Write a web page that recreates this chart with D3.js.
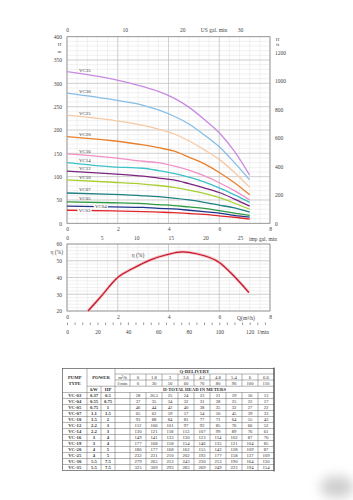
<!DOCTYPE html>
<html>
<head>
<meta charset="utf-8">
<script src="https://cdn.jsdelivr.net/npm/d3@7"></script>
<style>
  body { margin: 0; background: #fff; }
  svg { display: block; font-family: "Liberation Serif", "DejaVu Serif", serif; }
</style>
</head>
<body>
<script>
// ---- table data ----
const flowM3h = [0, 1.8, 3, 3.6, 4.2, 4.8, 5.4, 6, 6.6];
const flowLmin = [0, 30, 50, 60, 70, 80, 90, 100, 110];
const pumpTypes = ["VC-03", "VC-04", "VC-05", "VC-07", "VC-10", "VC-12", "VC-14", "VC-16", "VC-19", "VC-20", "VC-25", "VC-30", "VC-35"];
const powerKw = ["0.37", "0.55", "0.75", "1.1", "1.5", "2.2", "2.2", "3", "3", "4", "4", "5.5", "5.5"];
const powerHp = ["0.5", "0.75", "1", "1.5", "2", "3", "3", "4", "4", "5", "5", "7.5", "7.5"];
const headTable = [
  [28, 26.5, 25, 24, 23, 21, 19, 16, 13],
  [37, 35, 34, 32, 31, 28, 25, 22, 17],
  [46, 44, 42, 40, 38, 35, 32, 27, 22],
  [65, 62, 59, 57, 54, 50, 45, 39, 33],
  [93, 88, 84, 81, 77, 71, 64, 55, 43],
  [112, 106, 101, 97, 93, 85, 76, 66, 52],
  [130, 121, 118, 113, 107, 99, 89, 76, 61],
  [149, 141, 133, 130, 123, 114, 102, 87, 70],
  [177, 168, 158, 154, 146, 135, 121, 104, 85],
  [186, 177, 168, 162, 155, 142, 128, 109, 87],
  [232, 221, 210, 202, 192, 177, 158, 137, 109],
  [279, 265, 253, 243, 230, 213, 190, 164, 130],
  [325, 309, 293, 283, 269, 249, 223, 194, 154]
];

// ---- curves on the H chart (VC-19 is only in the table) ----
const curveNames = ["VC35", "VC30", "VC25", "VC20", "VC16", "VC14", "VC12", "VC10", "VC07", "VC05", "VC04", "VC03"];
const curveRows = ["VC-35", "VC-30", "VC-25", "VC-20", "VC-16", "VC-14", "VC-12", "VC-10", "VC-07", "VC-05", "VC-04", "VC-03"];
const curveColors = ["#c88ae0", "#86bde6", "#f6c9a4", "#e8802c", "#f290c6", "#3cc2c8", "#7a237f", "#a9cf34", "#1c7f80", "#2f9a42", "#23348c", "#e0262a"];
const maxFlow = 7.2; // 120 l/min
const headAtMaxFlow = [103, 93, 77, 61, 50, 45, 37, 30, 24, 17, 13, 9];

// ---- efficiency curve ----
const effFlowLmin = [13.8, 21.6, 33.3, 43.5, 54.5, 65.4, 76, 85, 100, 109, 119.5];
const effValues = [20, 27.9, 40, 45.5, 50.4, 53.6, 55.3, 54.2, 49, 41.5, 31];

const W = 353, H = 500;
const svg = d3.select("body").append("svg").attr("width", W).attr("height", H);
const FS = 5.5;
const fmt = d3.format("d");

// scales
const x = d3.scaleLinear().domain([0, 8]).range([67, 270]);
const y = d3.scaleLinear().domain([0, 400]).range([223.3, 36.7]);
const yFt = d3.scaleLinear().domain([0, 400 * 3.2808]).range([223.3, 36.7]);
const xGpm = d3.scaleLinear().domain([0, 8 / 0.22712]).range([67, 270]);
const xImp = d3.scaleLinear().domain([0, 8 / 0.27277]).range([67, 270]);
const xLmin = d3.scaleLinear().domain([0, 8000 / 60]).range([67, 270]);
const yEff = d3.scaleLinear().domain([20, 60]).range([311, 244]);

function drawGrid(ys, xMin, xMaj, yMin, yMaj) {
  const g = svg.append("g");
  const [y0, y1] = ys.range();
  const [x0, x1] = x.range();
  const [d0, d1] = ys.domain();
  const xs = (step) => d3.range(0, 8 + 1e-6, step);
  const yv = (step) => d3.range(d0, d1 + 1e-6, step);
  g.selectAll(".vmin").data(xs(xMin)).join("line")
    .attr("x1", d => x(d)).attr("x2", d => x(d)).attr("y1", y0).attr("y2", y1)
    .attr("stroke", "#e2e2e2").attr("stroke-width", 0.5);
  g.selectAll(".hmin").data(yv(yMin)).join("line")
    .attr("y1", d => ys(d)).attr("y2", d => ys(d)).attr("x1", x0).attr("x2", x1)
    .attr("stroke", "#e2e2e2").attr("stroke-width", 0.5);
  g.selectAll(".vmaj").data(xs(xMaj)).join("line")
    .attr("x1", d => x(d)).attr("x2", d => x(d)).attr("y1", y0).attr("y2", y1)
    .attr("stroke", "#bcbcbc").attr("stroke-width", 0.6);
  g.selectAll(".hmaj").data(yv(yMaj)).join("line")
    .attr("y1", d => ys(d)).attr("y2", d => ys(d)).attr("x1", x0).attr("x2", x1)
    .attr("stroke", "#bcbcbc").attr("stroke-width", 0.6);
  g.append("rect").attr("x", x0).attr("y", y1).attr("width", x1 - x0).attr("height", y0 - y1)
    .attr("fill", "none").attr("stroke", "#8a8a8a").attr("stroke-width", 0.7);
}

function styleAxis(g) {
  g.select(".domain").remove();
  g.attr("font-size", FS).attr("font-family", "Liberation Serif, serif");
  g.selectAll("text").attr("fill", "#444");
  g.selectAll("line").attr("stroke", "#999");
}

function label(txt, lx, ly, anchor, size) {
  svg.append("text").attr("x", lx).attr("y", ly)
    .attr("text-anchor", anchor || "middle")
    .attr("font-size", size || FS).attr("fill", "#444").text(txt);
}

// ================= H-Q chart =================
drawGrid(y, 0.4, 2, 10, 50);

svg.append("g").attr("transform", "translate(67,0)")
  .call(d3.axisLeft(y).tickValues(d3.range(0, 401, 50)).tickFormat(fmt).tickSize(0).tickPadding(5)).call(styleAxis);
svg.append("g").attr("transform", "translate(270,0)")
  .call(d3.axisRight(yFt).tickValues(d3.range(0, 1201, 200)).tickFormat(fmt).tickSize(0).tickPadding(5)).call(styleAxis);
svg.append("g").attr("transform", "translate(0,36.7)")
  .call(d3.axisTop(xGpm).tickValues([0, 10, 20, 30]).tickFormat(fmt).tickSize(0).tickPadding(5)).call(styleAxis);
svg.append("g").attr("transform", "translate(0,223.3)")
  .call(d3.axisBottom(x).tickValues([0, 2, 4, 6, 8]).tickFormat(fmt).tickSize(0).tickPadding(4)).call(styleAxis);
svg.append("g").attr("transform", "translate(0,233.5)")
  .call(d3.axisBottom(xImp).tickValues([0, 5, 10, 15, 20, 25]).tickFormat(fmt).tickSize(0).tickPadding(3)).call(styleAxis);

label("US gal. min", 214, 31.8);
label("imp gal. min", 249, 240.5, "start");
label("H", 59.5, 45.5, "middle", 5);
label("m", 59.5, 52.5, "middle", 5);
label("H", 277.5, 41, "middle", 5);
label("ft", 277.5, 46, "middle", 5);

const curveQ = flowM3h.concat([maxFlow]);
const line = d3.line().x(d => x(d[0])).y(d => y(d[1])).curve(d3.curveMonotoneX);

curveNames.forEach((name, i) => {
  const heads = headTable[pumpTypes.indexOf(curveRows[i])].concat([headAtMaxFlow[i]]);
  const pts = curveQ.map((q, k) => [q, heads[k]]);
  svg.append("path").attr("d", line(pts))
    .attr("fill", "none").attr("stroke", curveColors[i]).attr("stroke-width", 1.3);

  const headAt = d3.scaleLinear().domain(curveQ).range(heads);
  if (name === "VC04" || name === "VC03") {
    const q = name === "VC04" ? 1.33 : 0.69;
    const cx = x(q), cy = y(headAt(q));
    svg.append("rect").attr("x", cx - 7).attr("y", cy - 2.3).attr("width", 14).attr("height", 4.6).attr("fill", "#fff");
    svg.append("text").attr("x", cx).attr("y", cy + 1.7).attr("text-anchor", "middle")
      .attr("font-size", 4.9).attr("fill", "#333").text(name);
  } else {
    svg.append("text").attr("x", x(0.47)).attr("y", y(headAt(0.55)) - 2)
      .attr("font-size", 4.9).attr("fill", "#333").text(name);
  }
});

// ================= efficiency chart =================
drawGrid(yEff, 0.4, 2, 2, 10);

svg.append("g").attr("transform", "translate(67,0)")
  .call(d3.axisLeft(yEff).tickValues([20, 30, 40, 50, 60]).tickFormat(fmt).tickSize(0).tickPadding(5)).call(styleAxis);
svg.append("g").attr("transform", "translate(0,311)")
  .call(d3.axisBottom(x).tickValues([0, 2, 4, 6, 8]).tickFormat(fmt).tickSize(0).tickPadding(4)).call(styleAxis);
svg.append("g").attr("transform", "translate(0,322.5)")
  .call(d3.axisBottom(xLmin).tickValues(d3.range(0, 131, 5)).tickSize(2.5).tickFormat("")).call(styleAxis);
svg.append("g").attr("transform", "translate(0,328)")
  .call(d3.axisBottom(xLmin).tickValues(d3.range(0, 121, 20)).tickFormat(fmt).tickSize(0).tickPadding(2)).call(styleAxis);

label("η (%)", 63, 253.5, "end");
label("Q(m³/h)", 246, 319.5);
label("l/min", 257.5, 334, "start");

const effLine = d3.line().x(d => xLmin(d[0])).y(d => yEff(d[1])).curve(d3.curveMonotoneX);
const effPts = effFlowLmin.map((q, k) => [q, effValues[k]]);
svg.append("path").attr("d", effLine(effPts))
  .attr("fill", "none").attr("stroke", "#f3b9bd").attr("stroke-width", 2.8);
svg.append("path").attr("d", effLine(effPts))
  .attr("fill", "none").attr("stroke", "#c4162c").attr("stroke-width", 1.2);
label("η (%)", 138, 256.5);

// ================= table =================
const tTop = 368.5, tLeft = 62.5, tRight = 274;
const hdr = [368.5, 374, 380, 386.2, 392.5];
const rowH = 6;
const tBottom = hdr[4] + rowH * pumpTypes.length;
const cType = 87, cKw = 101, cLab = 115, cVal = 130;
const valW = (tRight - cVal) / flowM3h.length;
const valX = i => cVal + valW * (i + 0.5);
const rowY = i => hdr[4] + rowH * (i + 0.5);

const tg = svg.append("g").attr("stroke", "#666").attr("stroke-width", 0.5);
const hl = (x1, x2, yy) => tg.append("line").attr("x1", x1).attr("x2", x2).attr("y1", yy).attr("y2", yy);
const vl = (xx, y1, y2) => tg.append("line").attr("x1", xx).attr("x2", xx).attr("y1", y1).attr("y2", y2);

hl(cLab, tRight, hdr[1]);
hl(cLab, tRight, hdr[2]);
hl(cType, tRight, hdr[3]);
hl(tLeft, tRight, hdr[4]);
pumpTypes.forEach((d, i) => { if (i > 0) hl(tLeft, tRight, hdr[4] + rowH * i); });
vl(cType, tTop, tBottom);
vl(cKw, hdr[3], tBottom);
vl(cLab, tTop, tBottom);
d3.range(0, flowM3h.length).forEach(i => {
  const xx = cVal + valW * i;
  vl(xx, hdr[1], hdr[3]);
  vl(xx, hdr[4], tBottom);
});
tg.append("rect").attr("x", tLeft).attr("y", tTop).attr("width", tRight - tLeft).attr("height", tBottom - tTop)
  .attr("fill", "none").attr("stroke", "#555").attr("stroke-width", 0.7);
vl(tRight, tTop - 1, tBottom + 1).attr("stroke", "#444").attr("stroke-width", 1);

function cell(txt, cx, cy, bold) {
  svg.append("text").attr("x", cx).attr("y", cy).attr("dy", "0.35em")
    .attr("text-anchor", "middle").attr("font-size", 4.7)
    .attr("font-weight", bold ? "bold" : "normal").attr("fill", "#333").text(txt);
}

cell("PUMP", (tLeft + cType) / 2, 377.3, true);
cell("TYPE", (tLeft + cType) / 2, 383, true);
cell("POWER", (cType + cLab) / 2, 377.5, true);
cell("kW", (cType + cKw) / 2, 389.4, true);
cell("HP", (cKw + cLab) / 2, 389.4, true);
cell("m³/h", (cLab + cVal) / 2, 377);
cell("l/min", (cLab + cVal) / 2, 383);
cell("Q-DELIVERY", (cLab + tRight) / 2, 371.3, true);
cell("H-TOTAL HEAD IN METERS", (cLab + tRight) / 2, 389.4, true);
flowM3h.forEach((q, i) => cell(q, valX(i), 377));
flowLmin.forEach((q, i) => cell(q, valX(i), 383));

pumpTypes.forEach((t, r) => {
  cell(t, (tLeft + cType) / 2, rowY(r), true);
  cell(powerKw[r], (cType + cKw) / 2, rowY(r), true);
  cell(powerHp[r], (cKw + cLab) / 2, rowY(r), true);
  headTable[r].forEach((h, i) => cell(h, valX(i), rowY(r)));
});

// faint grey smudge in the bottom-right corner
const defs = svg.append("defs");
defs.append("filter").attr("id", "blur").attr("x", "-1").attr("y", "-1").attr("width", "3").attr("height", "3")
  .append("feGaussianBlur").attr("stdDeviation", 6);
svg.append("ellipse").attr("cx", 337).attr("cy", 487).attr("rx", 17).attr("ry", 11)
  .attr("fill", "#cfcfcf").attr("filter", "url(#blur)");
</script>
</body>
</html>
